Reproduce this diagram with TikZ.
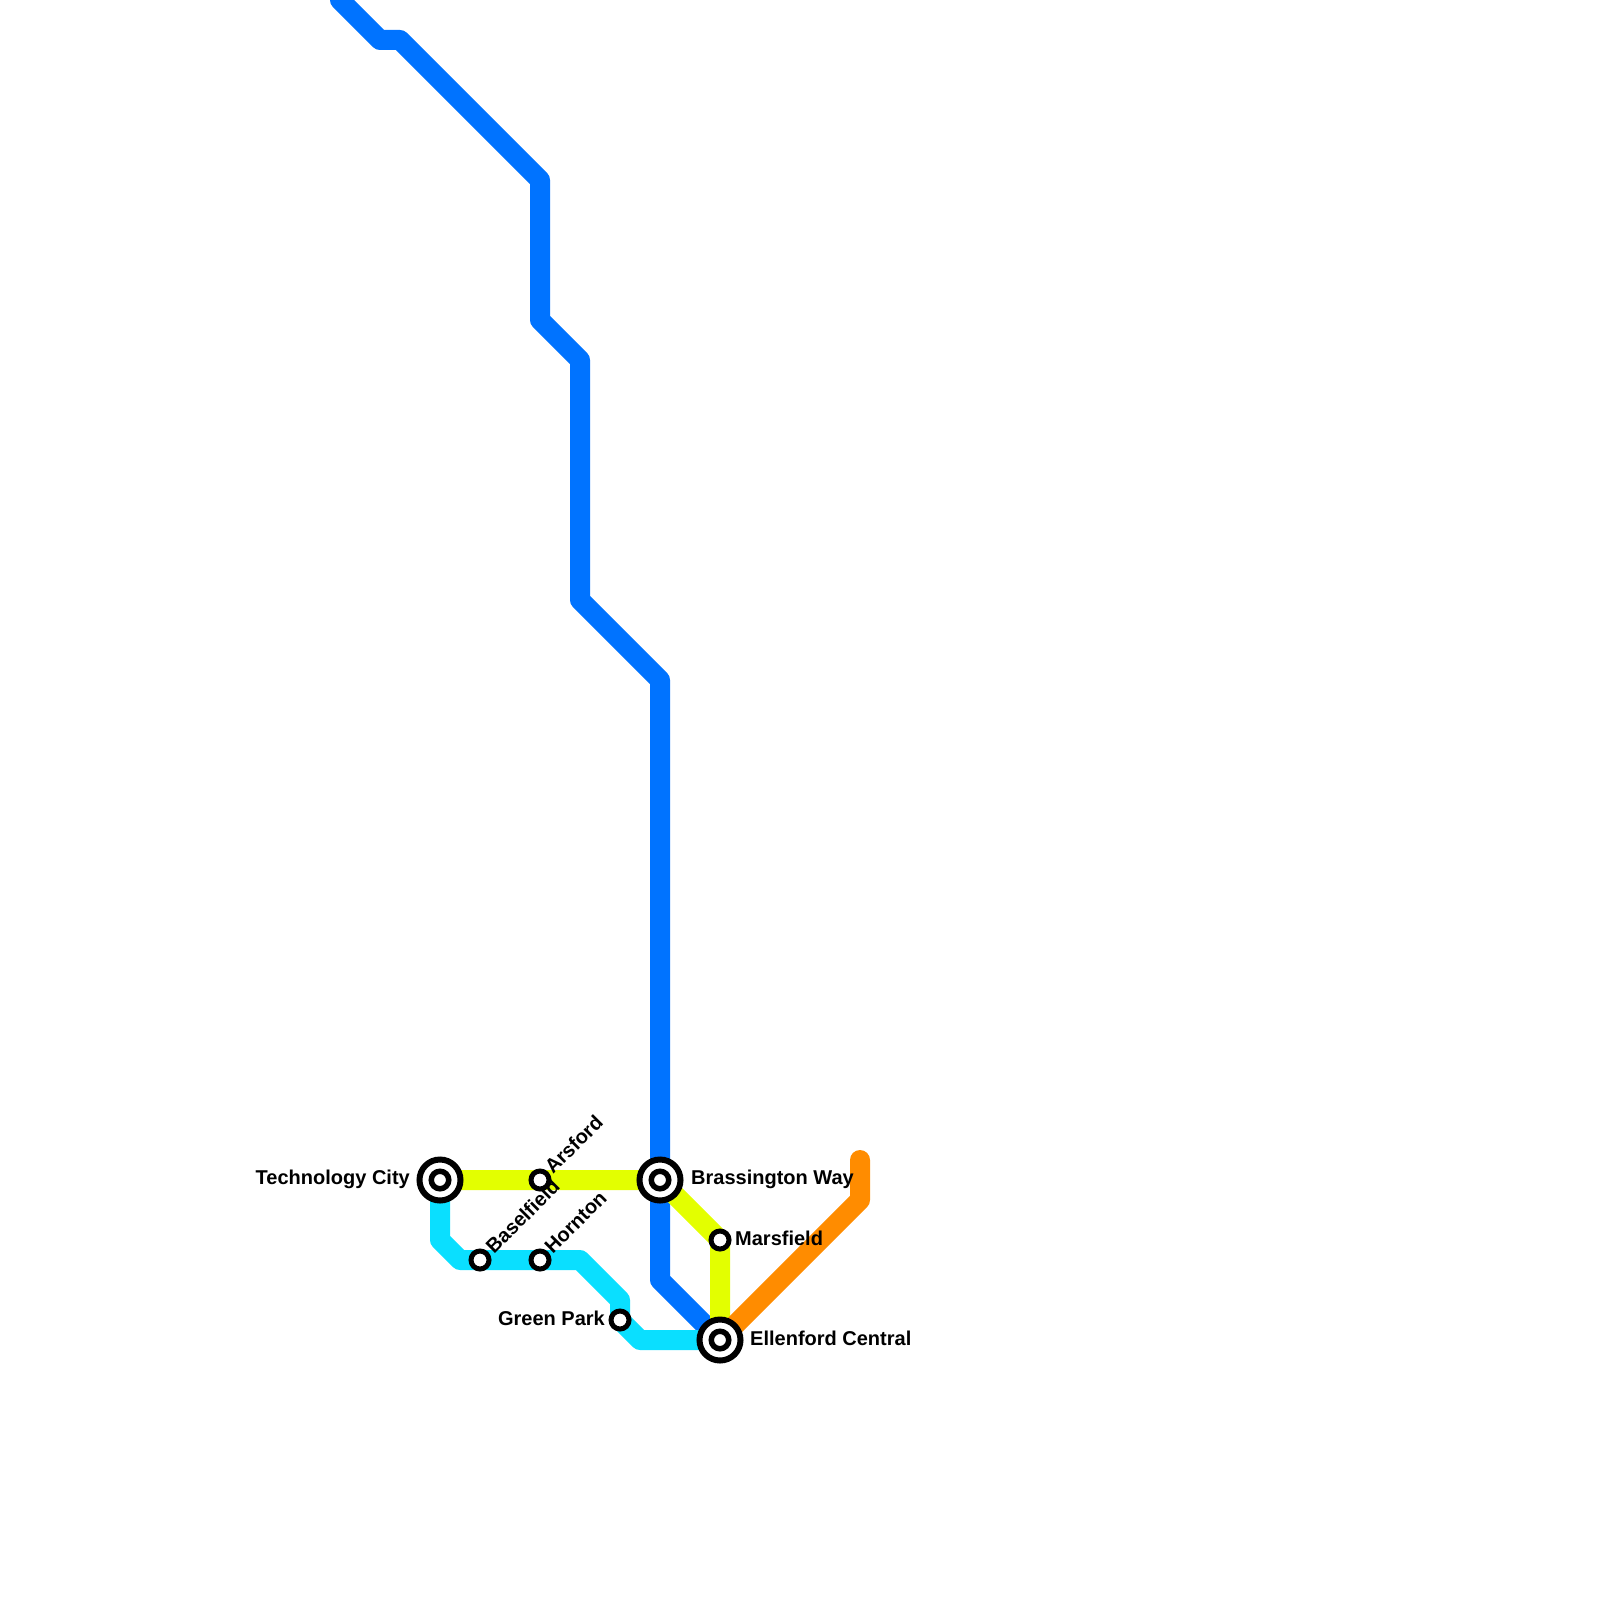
\documentclass[tikz,border=0pt]{standalone}
\usepackage{fontspec}
\setmainfont{Liberation Sans}
\definecolor{lineblue}{HTML}{0073FF}
\definecolor{linecyan}{HTML}{0ADFFF}
\definecolor{lineyellow}{HTML}{E3FF00}
\definecolor{lineorange}{HTML}{FF8C00}

\begin{document}
\begin{tikzpicture}[
  x=1pt, y=-1pt,
  metro/.style={line width=20pt, line join=round, line cap=round},
  halt/.style={circle, draw=black, fill=white, line width=5pt, minimum size=18pt, inner sep=0pt},
  hub/.style={circle, draw=black, fill=white, line width=6pt, minimum size=41pt, inner sep=0pt},
  hubdot/.style={circle, draw=black, fill=white, line width=5.5pt, minimum size=17.5pt, inner sep=0pt},
  stationlabel/.style={font=\fontsize{20pt}{22pt}\selectfont\bfseries, inner sep=0pt},
]
\useasboundingbox (0,0) rectangle (1600,1600);

% bends
\coordinate (b1) at (340,0);
\coordinate (b2) at (380,40);
\coordinate (b3) at (400,40);
\coordinate (b4) at (540,180);
\coordinate (b5) at (540,320);
\coordinate (b6) at (580,360);
\coordinate (b7) at (580,600);
\coordinate (b8) at (660,680);
\coordinate (b9) at (660,1280);
\coordinate (c1) at (440,1240);
\coordinate (c2) at (460,1260);
\coordinate (c3) at (580,1260);
\coordinate (c4) at (620,1300);
\coordinate (c5) at (640,1340);
\coordinate (o1) at (860,1200);
\coordinate (o2) at (860,1160);

% stations, held back until the lines are drawn
\coordinate (techcity) at (440,1180);
\coordinate (brassington) at (660,1180);
\coordinate (ellenford) at (720,1340);
\coordinate (marsfield) at (720,1240);
\coordinate (arsford) at (540,1180);
\coordinate (baselfield) at (480,1260);
\coordinate (hornton) at (540,1260);
\coordinate (greenpark) at (620,1320);

\draw[metro, lineblue] (b1) -- (b2) -- (b3) -- (b4) -- (b5) -- (b6) -- (b7) -- (b8) -- (b9) -- (ellenford);
\draw[metro, linecyan] (techcity) -- (c1) -- (c2) -- (c3) -- (c4) -- (greenpark) -- (c5) -- (ellenford);
\draw[metro, lineyellow] (techcity) -- (brassington) -- (marsfield) -- (ellenford);
\draw[metro, lineorange] (ellenford) -- (o1) -- (o2);

\node[hub] (techouter) at (techcity) {};
\node[hubdot] (techinner) at (techcity) {};
\node[hub] (brassouter) at (brassington) {};
\node[hubdot] (brassinner) at (brassington) {};
\node[hub] (ellenouter) at (ellenford) {};
\node[hubdot] (elleninner) at (ellenford) {};
\node[halt] (marsstop) at (marsfield) {};
\node[halt] (arsstop) at (arsford) {};
\node[halt] (basestop) at (baselfield) {};
\node[halt] (hornstop) at (hornton) {};
\node[halt] (greenstop) at (greenpark) {};

\node[stationlabel, anchor=east] (techlabel) at (410,1179) {Technology City};
\node[stationlabel, anchor=west] (brasslabel) at (691,1179) {Brassington Way};
\node[stationlabel, anchor=west] (marslabel) at (735,1238) {Marsfield};
\node[stationlabel, anchor=west] (ellenlabel) at (750,1338) {Ellenford Central};
\node[stationlabel, anchor=east] (greenlabel) at (605,1318) {Green Park};
\node[stationlabel, anchor=west, rotate=45] (arslabel) at (548,1170) {Arsford};
\node[stationlabel, anchor=west, rotate=45] (baselabel) at (489,1250) {Baselfield};
\node[stationlabel, anchor=west, rotate=45] (hornlabel) at (548,1250) {Hornton};
\end{tikzpicture}
\end{document}
